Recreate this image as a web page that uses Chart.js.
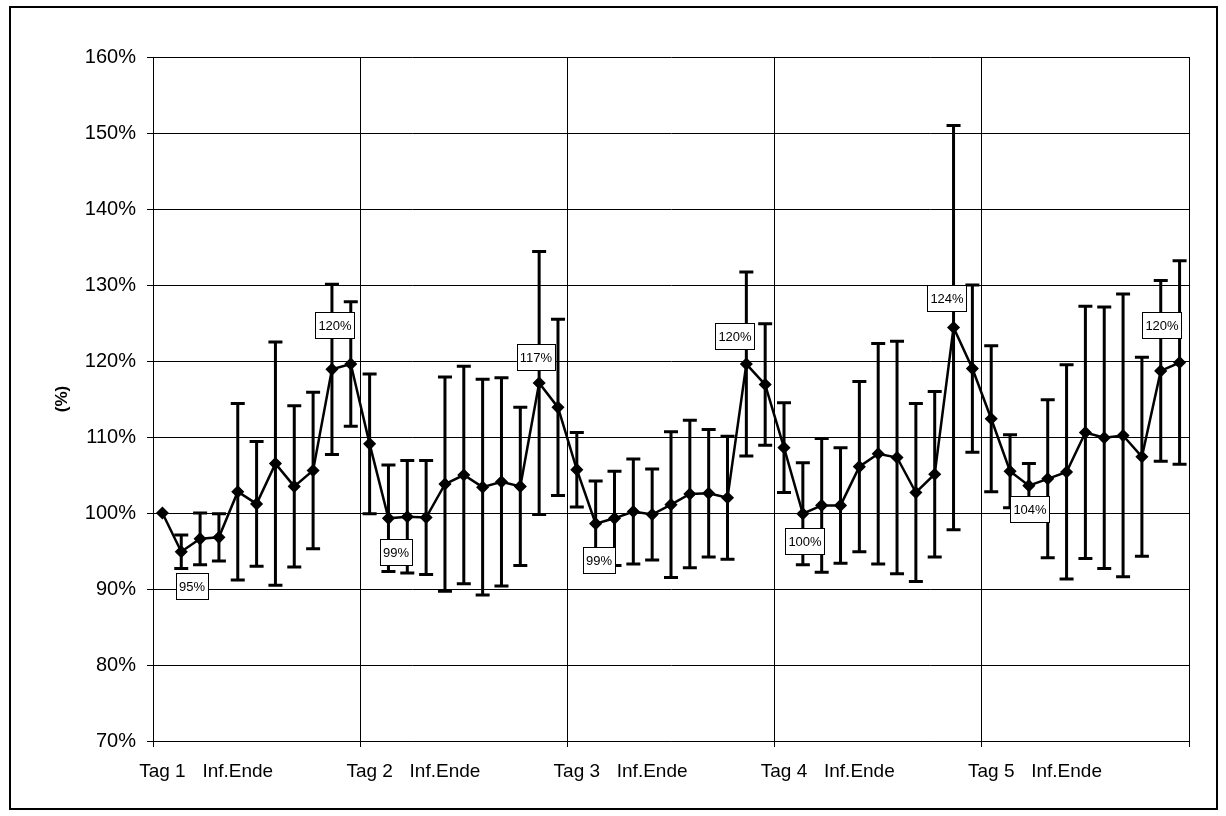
<!DOCTYPE html>
<html>
<head>
<meta charset="utf-8">
<script src="https://cdn.jsdelivr.net/npm/chart.js@4.4.1/dist/chart.umd.min.js"></script>
<style>
  html, body { margin: 0; padding: 0; background: #fff; }
  #wrap { width: 1226px; height: 816px; }
</style>
</head>
<body>
<div id="wrap"><canvas id="chart" width="1226" height="816"></canvas></div>
<script>
// day names and the label slots inside each day (11 measurements per day)
const dayNames = ['Tag 1', 'Tag 2', 'Tag 3', 'Tag 4', 'Tag 5'];
const slotLabels = ['DAY', '', '', '', 'Inf.Ende', '', '', '', '', '', ''];

// mean values in %
const means = [
    100.0, 94.9, 96.6, 96.8, 102.8, 101.2, 106.5, 103.5, 105.6, 118.9, 119.6,
    109.1, 99.3, 99.5, 99.4, 103.8, 105.0, 103.4, 104.1, 103.5, 117.1, 113.9,
    105.7, 98.6, 99.3, 100.2, 99.8, 101.1, 102.5, 102.6, 102.0, 119.6, 116.9,
    108.6, 99.9, 101.0, 101.0, 106.1, 107.8, 107.3, 102.7, 105.1, 124.4, 119.0,
    112.4, 105.5, 103.6, 104.5, 105.4, 110.6, 109.9, 110.2, 107.4, 118.7, 119.8
];

// +/- error (standard deviation) in %
const errors = [
    0, 2.2, 3.4, 3.1, 11.6, 8.2, 16.0, 10.6, 10.3, 11.2, 8.2,
    9.2, 7.0, 7.4, 7.5, 14.1, 14.3, 14.2, 13.7, 10.4, 17.3, 11.6,
    4.9, 5.6, 6.2, 6.9, 6.0, 9.6, 9.7, 8.4, 8.1, 12.1, 8.0,
    5.9, 6.7, 8.8, 7.6, 11.2, 14.5, 15.3, 11.7, 10.9, 26.6, 11.0,
    9.6, 4.8, 2.9, 10.4, 14.1, 16.6, 17.2, 18.6, 13.1, 11.9, 13.4
];

// points that carry a value label (min / max of each day)
const labelledPoints = [1, 10, 12, 20, 23, 31, 34, 42, 46, 54];

const yTicks = [70, 80, 90, 100, 110, 120, 130, 140, 150, 160];

const categories = [];
dayNames.forEach(day => {
    slotLabels.forEach(s => categories.push(s === 'DAY' ? day : s));
});

const FONT = "'Liberation Sans', Arial, sans-serif";
const GROUP = slotLabels.length;

// label box placement relative to its point (manually moved in the original)
const labelOffsets = {
    1: [11, 34], 10: [-16, -39], 12: [8, 34], 20: [-3, -26], 23: [3, 36],
    31: [-11, -28], 34: [2, 27], 42: [-7, -30], 46: [1, 23], 54: [-18, -38]
};

const frame = {
    id: 'frame',
    beforeDraw(chart) {
        const ctx = chart.ctx;
        ctx.save();
        ctx.fillStyle = '#fff';
        ctx.fillRect(0, 0, chart.width, chart.height);
        ctx.strokeStyle = '#000';
        ctx.lineWidth = 2;
        ctx.strokeRect(10, 7, 1207, 802);
        ctx.restore();
    }
};

const errorBars = {
    id: 'errorBars',
    beforeDatasetsDraw(chart) {
        const ctx = chart.ctx;
        const y = chart.scales.y;
        const meta = chart.getDatasetMeta(0);
        ctx.save();
        ctx.strokeStyle = '#000';
        ctx.lineWidth = 3;
        meta.data.forEach((pt, i) => {
            const e = errors[i];
            if (!e) return;
            const top = y.getPixelForValue(means[i] + e);
            const bot = y.getPixelForValue(means[i] - e);
            ctx.beginPath();
            ctx.moveTo(pt.x, top);
            ctx.lineTo(pt.x, bot);
            ctx.moveTo(pt.x - 7, top);
            ctx.lineTo(pt.x + 7, top);
            ctx.moveTo(pt.x - 7, bot);
            ctx.lineTo(pt.x + 7, bot);
            ctx.stroke();
        });
        ctx.restore();
    }
};

const valueLabels = {
    id: 'valueLabels',
    afterDatasetsDraw(chart) {
        const ctx = chart.ctx;
        const meta = chart.getDatasetMeta(0);
        ctx.save();
        ctx.font = '13px ' + FONT;
        ctx.textAlign = 'center';
        ctx.textBaseline = 'middle';
        labelledPoints.forEach(i => {
            const pt = meta.data[i];
            const off = labelOffsets[i] || [0, -30];
            const text = Math.round(means[i]) + '%';
            const w = ctx.measureText(text).width + 6;
            const h = 26;
            const cx = Math.round(pt.x + off[0]);
            const cy = Math.round(pt.y + off[1]);
            ctx.fillStyle = '#fff';
            ctx.fillRect(cx - w / 2, cy - h / 2, w, h);
            ctx.strokeStyle = '#000';
            ctx.lineWidth = 1;
            ctx.strokeRect(Math.round(cx - w / 2) + 0.5, cy - h / 2 + 0.5, Math.round(w), h);
            ctx.fillStyle = '#000';
            ctx.fillText(text, cx, cy + 1);
        });
        ctx.restore();
    }
};

new Chart(document.getElementById('chart'), {
    type: 'line',
    data: {
        labels: categories,
        datasets: [{
            data: means,
            borderColor: '#000',
            borderWidth: 2.5,
            pointStyle: 'rectRot',
            pointRadius: 5.5,
            pointBorderWidth: 1.5,
            pointBackgroundColor: '#000',
            pointBorderColor: '#000',
            tension: 0
        }]
    },
    options: {
        responsive: false,
        animation: false,
        events: [],
        layout: { padding: { left: 0, top: 57, right: 37, bottom: 0 } },
        plugins: {
            legend: { display: false },
            tooltip: { enabled: false }
        },
        scales: {
            x: {
                type: 'category',
                offset: true,
                afterFit: (scale) => { scale.height = 75; },
                grid: {
                    offset: true,
                    drawOnChartArea: true,
                    tickLength: 6,
                    lineWidth: 1,
                    color: (c) => (c.tick === undefined || c.index % GROUP === 0) ? '#000' : 'rgba(0,0,0,0)'
                },
                border: { display: true, color: '#000', width: 1 },
                ticks: {
                    autoSkip: false,
                    maxRotation: 0,
                    minRotation: 0,
                    padding: 13,
                    color: '#000',
                    font: { family: FONT, size: 19 }
                }
            },
            y: {
                min: 70,
                max: 160,
                afterFit: (scale) => { scale.width = 153; },
                afterBuildTicks: (scale) => { scale.ticks = yTicks.map(v => ({ value: v })); },
                grid: { color: '#000', lineWidth: 1, tickLength: 6 },
                border: { display: true, color: '#000', width: 1 },
                ticks: {
                    padding: 11,
                    color: '#000',
                    font: { family: FONT, size: 20 },
                    callback: (v) => v + '%'
                },
                title: {
                    display: true,
                    text: '(%)',
                    color: '#000',
                    padding: { top: 52, bottom: 0 },
                    font: { family: FONT, size: 17, weight: 'bold' }
                }
            }
        }
    },
    plugins: [frame, errorBars, valueLabels]
});
</script>
</body>
</html>
